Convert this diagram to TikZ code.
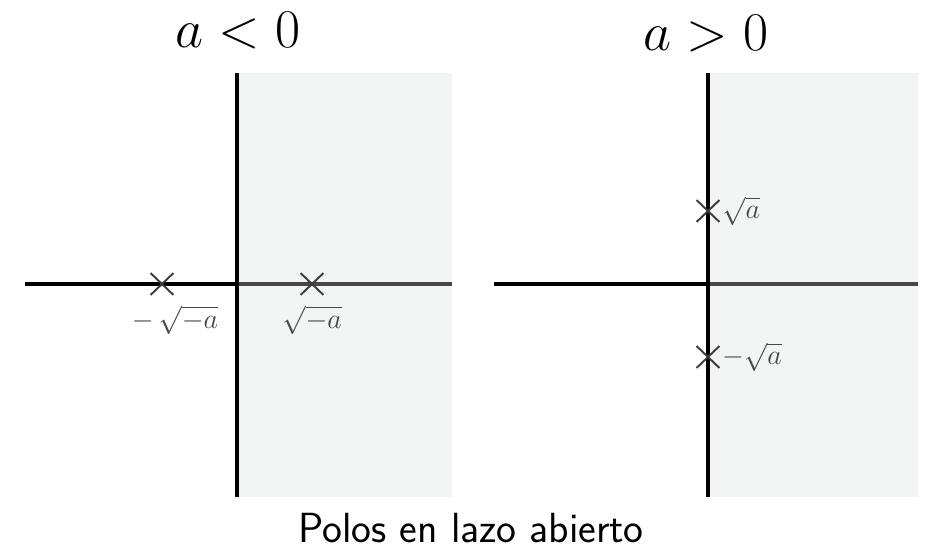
\RequirePackage{fix-cm}
\documentclass[tikz,border=0pt]{standalone}
\usepackage{amsmath, amssymb}
\usepackage{tikz}
\usetikzlibrary{shapes.misc}
\definecolor{shadegray}{RGB}{243,245,244}
\definecolor{axisgray}{RGB}{70,70,70}
\definecolor{polegray}{RGB}{60,60,60}
\tikzstyle{halfplane} = [fill=shadegray, draw=none]
\tikzstyle{axis} = [line width=2pt, black]
\tikzstyle{axisr} = [line width=2pt, axisgray]
\tikzstyle{pole} = [cross out, draw=polegray, line width=1.1pt, minimum width=0.42cm, minimum height=0.4cm, inner sep=0pt]
\tikzstyle{polelabel} = [text=axisgray, font=\fontsize{16}{19}\selectfont, inner sep=1pt]
\tikzstyle{title} = [font=\fontsize{31}{37}\selectfont]

\begin{document}
\begin{tikzpicture}[x=0.02cm, y=-0.02cm]
\useasboundingbox (0,0) rectangle (930,556);

% a < 0
\fill [halfplane] (237,73) rectangle (452,497);
\coordinate (lw) at (25,284);
\coordinate (lo) at (237,284);
\coordinate (le) at (452,284);
\coordinate (ln) at (237,73);
\coordinate (ls) at (237,497);
\draw [axis] (lw) -- (lo);
\draw [axisr] (lo) -- (le);
\draw [axis] (ln) -- (ls);
\node (lp1) [pole] at (162,284) {};
\node (lp2) [pole] at (312,284) {};
\node (ll1) [polelabel] at (175,320) {$-\,\sqrt{-a}$};
\node (ll2) [polelabel] at (312,320) {$\sqrt{-a}$};
\node (lt) [title] at (238,31) {$a<0$};

% a > 0
\fill [halfplane] (708,73) rectangle (918,497);
\coordinate (rw) at (494,284);
\coordinate (ro) at (708,284);
\coordinate (re) at (918,284);
\coordinate (rn) at (708,73);
\coordinate (rs) at (708,497);
\draw [axis] (rw) -- (ro);
\draw [axisr] (ro) -- (re);
\draw [axis] (rn) -- (rs);
\node (rp1) [pole] at (708,211) {};
\node (rp2) [pole] at (708,357) {};
\node (rl1) [polelabel, anchor=west] at (720,211) {$\sqrt{a}$};
\node (rl2) [polelabel, anchor=west] at (720,357) {$-\sqrt{a}$};
\node (rt) [title] at (706,34) {$a>0$};

\node (cap) [font=\sffamily\fontsize{24}{29}\selectfont] at (471,528) {Polos en lazo abierto};

\end{tikzpicture}
\end{document}
